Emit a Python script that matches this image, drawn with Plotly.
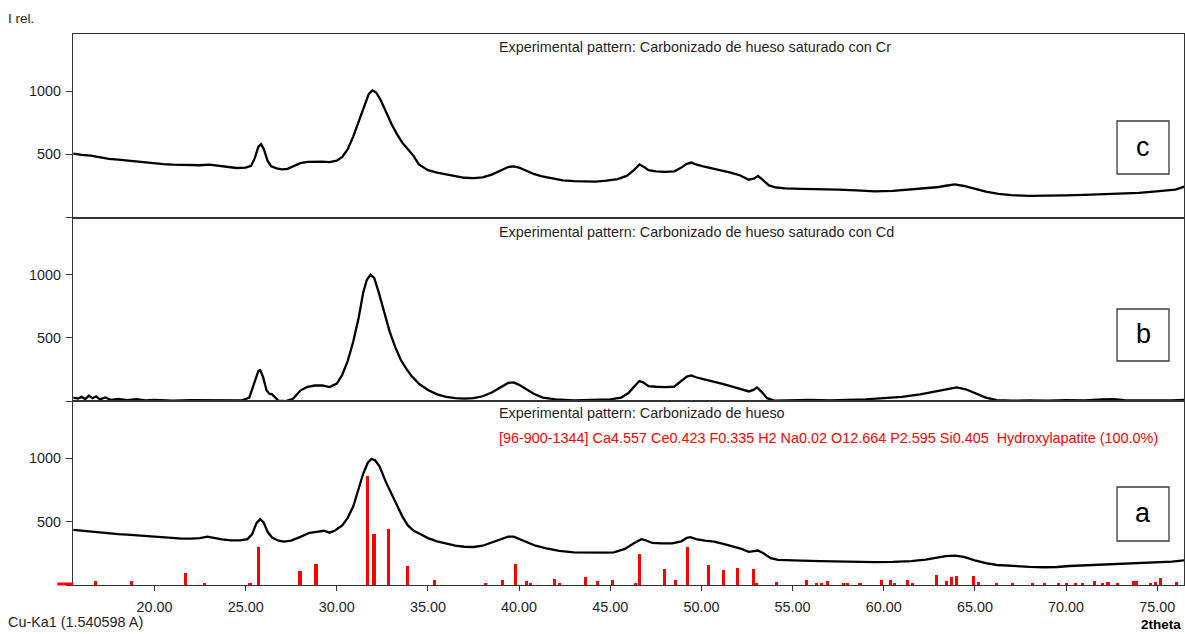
import plotly.graph_objects as go
from plotly.subplots import make_subplots

# ---- Pattern (c): bone char saturated with Cr ----
tt_c = [15.55, 16.0, 16.5, 17.0, 17.5, 18.0, 18.5, 19.0, 19.5, 20.0, 20.5, 21.0, 21.5, 22.0, 22.5,
        23.0, 23.3, 23.6, 24.0, 24.5, 25.0, 25.3, 25.5, 25.7, 25.85, 26.0, 26.2, 26.4, 26.7, 27.0,
        27.3, 27.6, 28.0, 28.4, 28.8, 29.2, 29.6, 30.0, 30.3, 30.6, 30.9, 31.2, 31.5, 31.75, 31.95,
        32.15, 32.4, 32.7, 33.0, 33.3, 33.6, 33.9, 34.2, 34.5, 35.0, 35.5, 36.0, 36.5, 37.0, 37.5,
        38.0, 38.5, 39.0, 39.4, 39.7, 40.0, 40.4, 40.8, 41.2, 41.8, 42.4, 43.0, 43.6, 44.2, 44.8,
        45.4, 45.9, 46.3, 46.6, 46.8, 47.1, 47.5, 48.0, 48.5, 48.9, 49.2, 49.45, 49.7, 50.1, 50.6,
        51.1, 51.6, 52.1, 52.6, 52.9, 53.1, 53.35, 53.7, 54.1, 54.6, 55.5, 56.5, 57.5, 58.5, 59.5,
        60.5, 61.5, 62.3, 62.9, 63.4, 63.9, 64.4, 65.0, 65.6, 66.3, 67.0, 68.0, 69.0, 70.0, 71.0,
        72.0, 73.0, 74.0, 74.8, 75.5, 76.0, 76.5]
i_c = [505, 495, 490, 475, 465, 458, 450, 442, 435, 428, 422, 418, 415, 414, 414,
       418, 412, 405, 398, 392, 395, 410, 470, 560, 580, 540, 450, 405, 390, 382,
       385, 405, 430, 440, 442, 442, 438, 450, 480, 540, 640, 760, 880, 975, 1005,
       990, 930, 830, 740, 660, 590, 540, 490, 420, 375, 355, 342, 325, 315, 312,
       318, 340, 375, 400, 405, 395, 370, 345, 328, 310, 295, 288, 285, 285, 292,
       305, 330, 375, 420, 405, 375, 365, 362, 365, 395, 425, 435, 420, 405, 390,
       372, 355, 335, 300, 310, 330, 300, 255, 238, 232, 228, 226, 222, 215, 208,
       212, 222, 230, 240, 252, 262, 250, 228, 205, 188, 178, 172, 172, 176, 180,
       185, 188, 195, 205, 212, 222, 245]

# ---- Pattern (b): bone char saturated with Cd ----
tt_b = [15.55, 15.8, 16.0, 16.2, 16.4, 16.6, 16.8, 17.0, 17.3, 17.6, 18.0, 18.5, 19.0, 19.5, 20.0,
        21.0, 22.0, 23.0, 24.0, 24.8, 25.2, 25.45, 25.7, 25.8, 25.95, 26.15, 26.3, 26.45, 26.6, 26.8,
        27.2, 27.6, 28.0, 28.4, 28.8, 29.2, 29.6, 30.0, 30.3, 30.6, 30.9, 31.2, 31.45, 31.65, 31.85,
        32.05, 32.3, 32.6, 32.9, 33.2, 33.5, 33.8, 34.1, 34.5, 35.0, 35.5, 36.0, 36.5, 37.0, 37.5,
        38.0, 38.5, 39.0, 39.4, 39.7, 40.0, 40.4, 40.8, 41.3, 42.0, 43.0, 44.0, 45.0, 45.6, 46.0,
        46.3, 46.6, 46.8, 47.1, 47.5, 48.0, 48.5, 48.9, 49.2, 49.45, 49.7, 50.1, 50.6, 51.1, 51.6,
        52.1, 52.6, 52.85, 53.05, 53.3, 53.6, 54.0, 55.0, 56.0, 57.0, 58.0, 59.0, 60.0, 61.0, 62.0,
        62.8, 63.5, 64.0, 64.5, 65.0, 65.6, 66.2, 67.0, 68.0, 69.0, 70.0, 71.0, 72.0, 72.6, 73.2,
        74.0, 75.0, 75.8, 76.5]
i_b = [30, 22, 35, 18, 45, 25, 40, 15, 30, 12, 20, 10, 18, 8, 12,
       6, 10, 8, 5, 8, 30, 130, 240, 245, 195, 85, 60, 55, 30, 5,
       2, 20, 85, 115, 125, 125, 112, 140, 210, 320, 470, 660, 860, 960, 1000,
       975, 860, 700, 550, 430, 330, 260, 200, 140, 90, 55, 35, 25, 22, 25,
       40, 70, 110, 145, 150, 130, 95, 60, 30, 15, 8, 10, 15, 30, 65,
       115, 160, 150, 120, 115, 112, 115, 160, 195, 205, 190, 175, 160, 140, 120,
       100, 78, 90, 110, 75, 25, 5, 8, 12, 8, 10, 15, 25, 35, 55,
       75, 95, 110, 95, 65, 30, 10, 5, 8, 5, 10, 8, 15, 18, 10,
       8, 10, 8, 12]

# ---- Pattern (a): bone char ----
tt_a = [15.55, 16.0, 16.5, 17.0, 17.5, 18.0, 18.5, 19.0, 19.5, 20.0, 20.5, 21.0, 21.5, 22.0, 22.5,
        22.9, 23.2, 23.7, 24.2, 24.7, 25.1, 25.35, 25.6, 25.8, 26.0, 26.2, 26.45, 26.8, 27.1, 27.5,
        28.0, 28.5, 28.9, 29.3, 29.6, 29.9, 30.3, 30.6, 30.9, 31.2, 31.45, 31.7, 31.9, 32.1, 32.35,
        32.7, 33.0, 33.3, 33.6, 33.9, 34.2, 34.6, 35.0, 35.5, 36.0, 36.5, 37.0, 37.5, 38.0, 38.5,
        39.0, 39.4, 39.7, 40.0, 40.4, 40.9, 41.5, 42.2, 43.0, 43.8, 44.6, 45.2, 45.8, 46.3, 46.7,
        46.9, 47.3, 47.8, 48.4, 48.9, 49.2, 49.4, 49.7, 50.2, 50.7, 51.2, 51.7, 52.2, 52.6, 52.9,
        53.1, 53.4, 53.8, 54.2, 54.8, 55.5, 56.5, 57.5, 58.5, 59.5, 60.5, 61.5, 62.3, 62.9, 63.4,
        63.9, 64.4, 65.0, 65.6, 66.2, 67.0, 68.0, 68.8, 69.5, 70.2, 71.0, 72.0, 73.0, 74.0, 75.0,
        75.8, 76.5]
i_a = [435, 428, 420, 413, 408, 402, 398, 393, 388, 380, 372, 368, 366, 366, 370,
       382, 372, 360, 352, 352, 362, 400, 490, 520, 490, 420, 375, 350, 342, 350,
       380, 412, 420, 428, 413, 430, 470, 530, 620, 760, 880, 965, 995, 985, 935,
       810, 720, 640, 540, 470, 430, 400, 370, 345, 325, 310, 302, 300, 310, 335,
       365, 382, 382, 365, 340, 310, 290, 270, 258, 255, 255, 258, 285, 330, 362,
       355, 332, 328, 328, 345, 372, 378, 362, 350, 342, 325, 305, 285, 262, 268,
       272, 250, 212, 198, 193, 192, 188, 184, 182, 180, 182, 188, 200, 215, 228,
       232, 222, 195, 172, 158, 150, 143, 140, 142, 150, 155, 160, 166, 172, 178,
       185, 195]

# ---- Reference card 96-900-1344 (hydroxylapatite) line positions and intensities ----
ref_tt = [16.75, 18.76, 21.72, 22.72, 25.24, 25.72, 27.98, 28.86, 31.67, 32.04, 32.86, 33.88, 35.38,
          38.18, 39.07, 39.8, 40.4, 40.62, 41.92, 42.23, 43.64, 44.3, 45.1, 46.38, 46.6, 47.98, 48.59,
          49.26, 50.41, 51.23, 51.97, 52.86, 53.0, 54.1, 55.75, 56.3, 56.57, 56.9, 57.8, 58.0, 58.7,
          59.86, 60.35, 60.59, 61.3, 61.56, 62.9, 63.42, 63.7, 63.97, 64.9, 65.2, 66.2, 67.07, 68.16,
          68.8, 69.6, 70.0, 70.5, 70.9, 71.55, 72.0, 72.3, 72.8, 73.7, 73.86, 74.65, 74.9, 75.2, 76.07]
ref_i = [26, 26, 92, 16, 16, 295, 111, 166, 856, 400, 440, 145, 38,
         12, 40, 166, 26, 17, 47, 17, 58, 26, 34, 17, 242, 124, 40,
         295, 158, 113, 134, 124, 17, 18, 40, 10, 15, 30, 15, 15, 15,
         40, 40, 15, 40, 15, 79, 30, 60, 66, 66, 20, 10, 10, 10,
         10, 10, 10, 10, 10, 30, 15, 20, 10, 30, 30, 10, 20, 55, 20]

x_ticks = [20, 25, 30, 35, 40, 45, 50, 55, 60, 65, 70, 75]
x_tick_text = ["%.2f" % v for v in x_ticks]
y_ticks = [0, 500, 1000]
y_tick_text = ["", "500", "1000"]

titles = ["Experimental pattern: Carbonizado de hueso saturado con Cr",
          "Experimental pattern: Carbonizado de hueso saturado con Cd",
          "Experimental pattern: Carbonizado de hueso"]
phase_text = ("[96-900-1344] Ca4.557 Ce0.423 F0.335 H2 Na0.02 O12.664 P2.595 Si0.405"
              "  Hydroxylapatite (100.0%)")
panel_letters = ["c", "b", "a"]

FONT = "Arial, Liberation Sans, sans-serif"
FS = 14.4
AXIS = "#333333"
TXT = "#1e1e28"

fig = make_subplots(rows=3, cols=1, shared_xaxes=True, vertical_spacing=0)

line_style = dict(color="black", width=2.3)
fig.add_trace(go.Scatter(x=tt_c, y=i_c, mode="lines", line=line_style), row=1, col=1)
fig.add_trace(go.Scatter(x=tt_b, y=i_b, mode="lines", line=line_style), row=2, col=1)
fig.add_trace(go.Bar(x=ref_tt, y=ref_i, width=0.17, marker=dict(color="#ff0000", line=dict(width=0))),
              row=3, col=1)
fig.add_trace(go.Scatter(x=tt_a, y=i_a, mode="lines", line=line_style), row=3, col=1)

for r in (1, 2, 3):
    fig.update_xaxes(range=[15.53, 76.47], showgrid=False, zeroline=False, showline=True,
                     linecolor=AXIS, linewidth=1, mirror=True, row=r, col=1)
    fig.update_yaxes(range=[0, 1450], tickvals=y_ticks, ticktext=y_tick_text, ticks="outside",
                     ticklen=6, tickcolor=AXIS, showgrid=False, zeroline=False, showline=True,
                     linecolor=AXIS, linewidth=1, mirror=True, ticklabelstandoff=2,
                     tickfont=dict(family=FONT, size=FS, color=TXT), row=r, col=1)
fig.update_xaxes(showticklabels=False, ticks="", row=1, col=1)
fig.update_xaxes(showticklabels=False, ticks="", row=2, col=1)
fig.update_xaxes(tickvals=x_ticks, ticktext=x_tick_text, ticks="outside", ticklen=5, tickcolor=AXIS,
                 ticklabelstandoff=4,
                 tickfont=dict(family=FONT, size=FS, color=TXT), row=3, col=1)

# pixel -> paper helpers for a 73..1184 x 34..585 plotting area
def px(x):
    return (x - 72.7) / 1111.3

def py(y):
    return (585 - y) / 551.0

ann = []
for t, yy in zip(titles, [47, 232, 413]):
    ann.append(dict(text=t, x=px(497), y=py(yy), xref="paper", yref="paper", xanchor="left",
                    yanchor="middle", showarrow=False, font=dict(family=FONT, size=FS, color=TXT)))
ann.append(dict(text=phase_text, x=px(497), y=py(438), xref="paper", yref="paper", xanchor="left",
                yanchor="middle", showarrow=False, font=dict(family=FONT, size=FS, color="#ff0000")))
ann.append(dict(text="I rel.", x=px(6), y=py(18), xref="paper", yref="paper", xanchor="left",
                yanchor="middle", showarrow=False, font=dict(family=FONT, size=13.5, color=TXT)))
ann.append(dict(text="Cu-Ka1 (1.540598 A)", x=px(6), y=py(622), xref="paper", yref="paper",
                xanchor="left", yanchor="middle", showarrow=False,
                font=dict(family=FONT, size=FS, color=TXT)))
ann.append(dict(text="<b>2theta</b>", x=px(1183), y=py(624), xref="paper", yref="paper",
                xanchor="right", yanchor="middle", showarrow=False,
                font=dict(family=FONT, size=13.5, color="black")))

shapes = []
boxes = [(121, 174), (309, 361), (487, 541)]
for letter, (y0, y1) in zip(panel_letters, boxes):
    shapes.append(dict(type="rect", xref="paper", yref="paper", x0=px(1117), x1=px(1169),
                       y0=py(y1), y1=py(y0), line=dict(color="#3a3a3a", width=1.3),
                       fillcolor="white", layer="above"))
    ann.append(dict(text=letter, x=px(1143), y=py((y0 + y1) / 2 - 1), xref="paper", yref="paper",
                    xanchor="center", yanchor="middle", showarrow=False,
                    font=dict(family=FONT, size=27, color="black")))
# short red marker at the origin of the reference-line panel
shapes.append(dict(type="line", xref="paper", yref="paper", x0=px(57), x1=px(73),
                   y0=py(584), y1=py(584), line=dict(color="#ff0000", width=3)))

fig.update_layout(width=1185, height=634, margin=dict(l=73, r=1, t=34, b=49),
                  paper_bgcolor="white", plot_bgcolor="white", showlegend=False,
                  annotations=ann, shapes=shapes, bargap=0)

fig.write_html("out.html")
